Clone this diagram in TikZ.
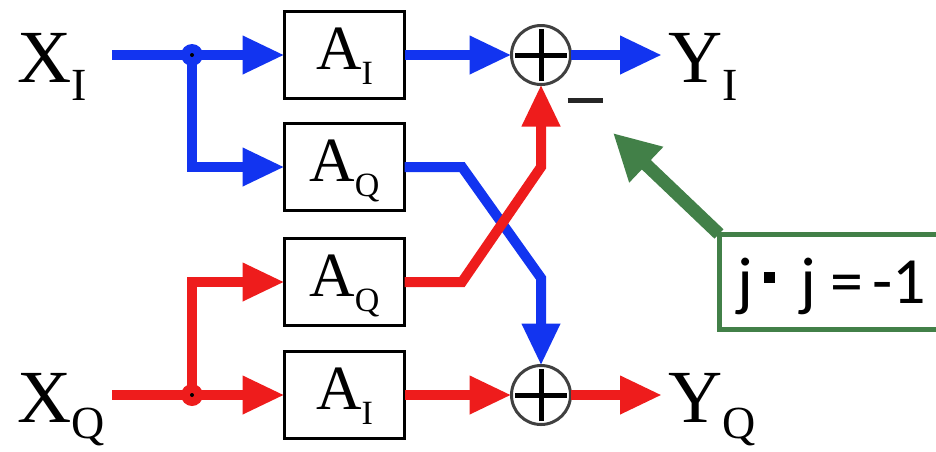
\documentclass[tikz,border=0pt]{standalone}
\usepackage{fontspec}
\setmainfont{Liberation Serif}
\newfontfamily\calibfont{Carlito}
\usetikzlibrary{arrows.meta}
\definecolor{sigblue}{RGB}{18,52,240}
\definecolor{sigred}{RGB}{238,28,28}
\definecolor{notegreen}{RGB}{66,128,72}
\newcommand{\sublbl}[5]{{\fontsize{#1}{#1}\selectfont #2}{\fontsize{#3}{#3}\selectfont\raisebox{-#4pt}{#5}}}
\begin{document}
\begin{tikzpicture}[x=1pt,y=-1pt,
  amp/.style={draw=black, line width=3pt, minimum width=120pt, minimum height=87pt, inner sep=0pt, outer sep=0pt, text height=43pt, text depth=14pt},
  summer/.style={circle, draw=black!75, line width=3pt, minimum size=59pt, inner sep=0pt, outer sep=0pt,
    path picture={
      \draw[line width=5pt,black] ([xshift=-26pt]path picture bounding box.center) -- ([xshift=26pt]path picture bounding box.center);
      \draw[line width=5pt,black] ([yshift=-26pt]path picture bounding box.center) -- ([yshift=26pt]path picture bounding box.center);}},
  sig/.style={line width=10pt, line join=miter, -{Triangle[length=42pt,width=36pt]}},
  junc/.style={circle, minimum size=22pt, inner sep=0pt, outer sep=0pt,
    path picture={\fill[black] (path picture bounding box.center) circle (2pt);}},
  iolabel/.style={anchor=base west, inner sep=0pt, outer sep=0pt},
  notebox/.style={anchor=west, outer sep=0pt, minimum height=95pt,
    inner xsep=18pt, inner ysep=0pt, text height=50pt, text depth=7pt,
    font={\calibfont\fontsize{66}{66}\selectfont}},
  noteframe/.style={draw=notegreen, line width=5pt, line join=miter},
  notearrow/.style={line width=13pt, draw=notegreen, -{Triangle[length=46pt,width=46pt]}}
]
\useasboundingbox (0,0) rectangle (936,451);

% amplifier boxes
\node[amp] (AI1) at (344.5,55) {\sublbl{63}{A}{34}{15}{I}};
\node[amp] (AQ2) at (344.5,167) {\sublbl{63}{A}{34}{15}{Q}};
\node[amp] (AQ3) at (344.5,282) {\sublbl{63}{A}{34}{15}{Q}};
\node[amp] (AI4) at (344.5,395) {\sublbl{63}{A}{34}{15}{I}};

% summing junctions
\node[summer] (S1) at (541,55) {};
\node[summer] (S2) at (541,395) {};

% coordinates
\coordinate (inI) at (112,55);
\coordinate (inQ) at (112,395);
\coordinate (jI) at (192,55);
\coordinate (jQ) at (192,395);
\coordinate (outI) at (662,55);
\coordinate (outQ) at (662,395);
\coordinate (bB1) at (462,167);
\coordinate (bB2) at (541,278);
\coordinate (rB1) at (462,282);
\coordinate (rB2) at (541,167);

% blue signal paths
\draw[sig, sigblue] (inI) -- (jI) -- (AI1.west);
\draw[sig, sigblue] (jI) |- (AQ2.west);
\draw[sig, sigblue] (AI1.east) -- (S1.west);
\draw[sig, sigblue] (S1.east) -- (outI);
\draw[sig, sigblue] (AQ2.east) -- (bB1) -- (bB2) -- (S2.north);

% red signal paths
\draw[sig, sigred] (inQ) -- (jQ) -- (AI4.west);
\draw[sig, sigred] (jQ) |- (AQ3.west);
\draw[sig, sigred] (AI4.east) -- (S2.west);
\draw[sig, sigred] (S2.east) -- (outQ);
\draw[sig, sigred] (AQ3.east) -- (rB1) -- (rB2) -- (S1.south);

% branch dots
\node[junc, fill=sigblue] (dotI) at (jI) {};
\node[junc, fill=sigred] (dotQ) at (jQ) {};

% labels
\node[iolabel] (XI) at (17,82) {\sublbl{75}{X}{46}{18}{I}};
\node[iolabel] (XQ) at (17,422) {\sublbl{75}{X}{46}{16}{Q}};
\node[iolabel] (YI) at (668,82) {\sublbl{75}{Y}{46}{18}{I}};
\node[iolabel] (YQ) at (668,422) {\sublbl{75}{Y}{46}{16}{Q}};

% minus sign
\node[inner sep=0pt, text=black!85] (neg) at (585,100) {\rule{35pt}{5pt}};

% note (frame open on the right, where the picture cuts it)
\node[notebox] (note) at (719,281.5) {\makebox[27pt][l]{j}\makebox[36pt][l]{\rule[20pt]{11pt}{11pt}}\makebox[31pt][l]{j}\makebox[42pt][l]{=}\makebox[19pt][l]{-}1};
\coordinate (frameNE) at (940,234);
\coordinate (frameSE) at (940,329);
\draw[noteframe] (frameNE) -- (note.north west) -- (note.south west) -- (frameSE);
\coordinate (gtip) at (613,133);
\draw[notearrow] (note.north west) -- (gtip);
\end{tikzpicture}
\end{document}
